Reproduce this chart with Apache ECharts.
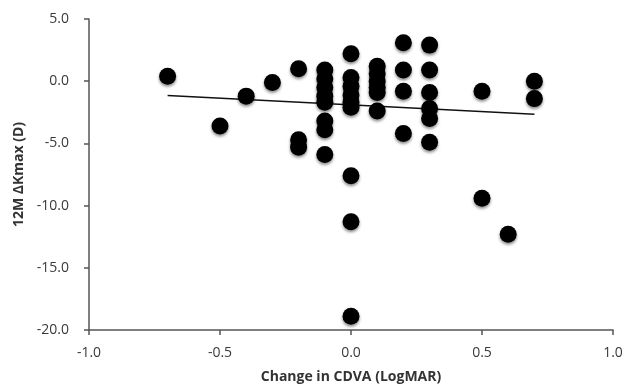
<!DOCTYPE html>
<html>
<head>
<meta charset="utf-8">
<script src="https://cdn.jsdelivr.net/npm/echarts@6/dist/echarts.min.js"></script>
<style>html,body{margin:0;padding:0;background:#fff}#c{width:634px;height:386px}</style>
</head>
<body>
<div id="c"></div>
<script>
// Change in CDVA (LogMAR)
var cdva = [
  -0.7, -0.5, -0.4, -0.3,
  -0.2, -0.2, -0.2,
  -0.1, -0.1, -0.1, -0.1, -0.1, -0.1, -0.1, -0.1,
  0.0, 0.0, 0.0, 0.0, 0.0, 0.0, 0.0, 0.0, 0.0,
  0.1, 0.1, 0.1, 0.1, 0.1, 0.1,
  0.2, 0.2, 0.2, 0.2,
  0.3, 0.3, 0.3, 0.3, 0.3, 0.3,
  0.5, 0.5, 0.6, 0.7, 0.7
];
// 12M ΔKmax (D)
var dkmax = [
  0.4, -3.6, -1.2, -0.1,
  1.0, -4.7, -5.3,
  0.9, 0.2, -0.5, -1.2, -1.7, -3.2, -3.9, -5.9,
  2.2, 0.3, -0.4, -1.1, -1.7, -2.1, -7.6, -11.3, -18.9,
  1.2, 0.6, 0.0, -0.5, -0.9, -2.4,
  3.1, 0.9, -0.8, -4.2,
  2.9, 0.9, -0.9, -2.2, -3.0, -4.9,
  -0.8, -9.4, -12.3, 0.0, -1.4
];
// Linear trend line end points
var trendX = [-0.7, 0.7];
var trendY = [-1.15, -2.65];

var xTicks = [-1.0, -0.5, 0.0, 0.5, 1.0];
var yTicks = [-20.0, -15.0, -10.0, -5.0, 0.0, 5.0];

var pts = cdva.map(function (x, i) { return [x, dkmax[i]]; });
var trend = trendX.map(function (x, i) { return [x, trendY[i]]; });

var chart = echarts.init(document.getElementById('c'));
var labelFont = {fontFamily: 'Open Sans', fontSize: 14, color: '#3a3a3a'};
chart.setOption({
  animation: false,
  grid: {left: 89, right: 21, top: 19, bottom: 56, containLabel: false, outerBoundsMode: 'none'},
  xAxis: {
    type: 'value', min: xTicks[0], max: xTicks[xTicks.length - 1], interval: 0.5,
    name: 'Change in CDVA (LogMAR)', nameLocation: 'middle', nameGap: 40,
    nameTextStyle: {fontFamily: 'Open Sans', fontSize: 14, fontWeight: 'bold', color: '#333'},
    axisLine: {onZero: false, lineStyle: {color: '#555', width: 1.5}},
    axisTick: {show: true, inside: false, length: 5, lineStyle: {color: '#555', width: 1.5}},
    axisLabel: Object.assign({margin: 16, formatter: function (v) { return v.toFixed(1); }}, labelFont),
    splitLine: {show: false}
  },
  yAxis: {
    type: 'value', min: yTicks[0], max: yTicks[yTicks.length - 1], interval: 5,
    name: '12M \u0394Kmax (D)', nameLocation: 'middle', nameGap: 58,
    nameTextStyle: {fontFamily: 'Open Sans', fontSize: 14, fontWeight: 'bold', color: '#333'},
    axisLine: {show: true, onZero: false, lineStyle: {color: '#555', width: 1.5}},
    axisTick: {show: true, inside: false, length: 5, lineStyle: {color: '#555', width: 1.5}},
    axisLabel: Object.assign({margin: 20, formatter: function (v) { return v.toFixed(1); }}, labelFont),
    splitLine: {show: false}
  },
  series: [
    {
      type: 'line', data: trend, symbol: 'none', z: 1,
      lineStyle: {color: '#111', width: 1.5}
    },
    {
      type: 'scatter', data: pts, symbol: 'circle', symbolSize: 17, z: 2,
      itemStyle: {color: '#000', opacity: 1, shadowColor: 'rgba(0,0,0,0.45)', shadowBlur: 3, shadowOffsetY: 2}
    }
  ]
});
</script>
</body>
</html>
